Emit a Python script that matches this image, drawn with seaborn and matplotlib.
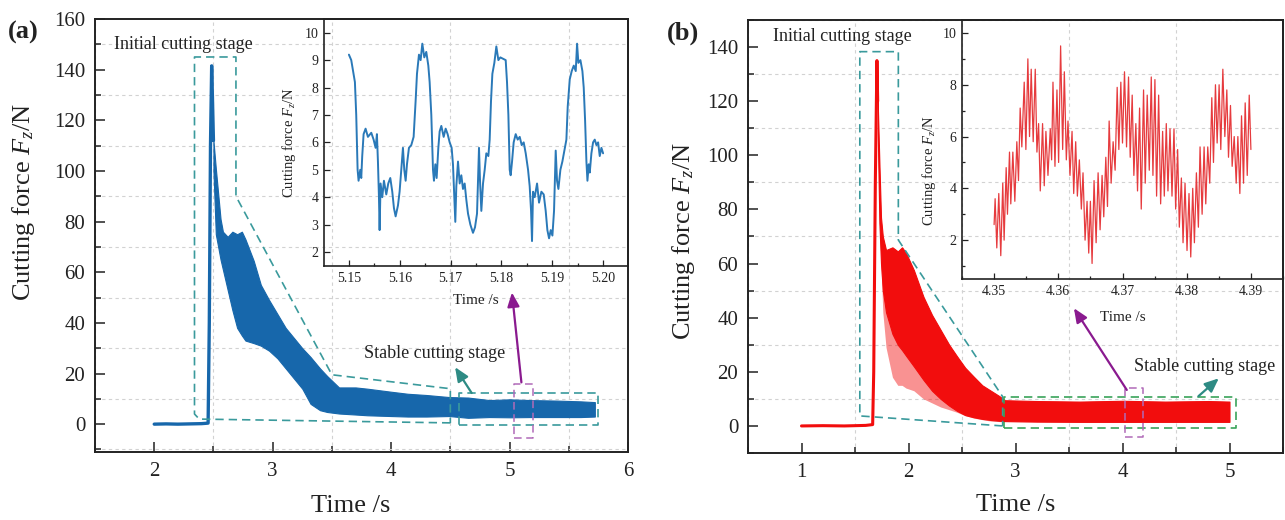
import numpy as np
import pandas as pd
import matplotlib
matplotlib.use('Agg')
import matplotlib.pyplot as plt
import seaborn as sns
from matplotlib.ticker import MultipleLocator, FormatStrFormatter

# ===================== data =====================
# ---- panel (a): idle baseline + initial force peak ----
a_line_t = [2.00, 2.10, 2.20, 2.30, 2.40, 2.455, 2.465, 2.475, 2.485, 2.492, 2.500]
a_line_f = [0.0, 0.1, 0.0, 0.1, 0.2, 0.4, 40.0, 110.0, 141.5, 128.0, 112.0]
# ---- panel (a): envelope of the dense cutting-force signal ----
a_env_t = [2.50, 2.52, 2.56, 2.58, 2.62, 2.66, 2.70, 2.74, 2.77, 2.84, 2.90, 2.97,
           3.04, 3.11, 3.18, 3.25, 3.32, 3.40, 3.46, 3.56, 3.70, 3.80, 4.00, 4.14,
           4.30, 4.49, 4.65, 4.83, 5.00, 5.18, 5.40, 5.60, 5.72]
a_env_hi = [112, 101, 81, 76, 74, 76, 75, 76, 73, 64.5, 55, 49,
            43.5, 38, 34, 30, 26.5, 22, 19, 14.5, 14.5, 14, 12.8, 12,
            11.5, 10.7, 10.5, 9.5, 9.8, 9.5, 9.3, 9.0, 8.7]
a_env_lo = [100, 75, 65, 61, 53, 45, 38, 35, 33, 32, 31, 29,
            26, 22, 18, 14, 8, 5.5, 4.8, 4.2, 3.8, 3.5, 3.2, 3.0,
            3.0, 3.2, 2.5, 2.8, 2.7, 2.8, 2.8, 2.8, 3.0]

# ---- panel (b): idle baseline + initial force peak ----
b_line_t = [1.00, 1.20, 1.40, 1.60, 1.665, 1.675, 1.690, 1.705, 1.712]
b_line_f = [0.0, 0.1, 0.0, 0.2, 0.5, 20.0, 90.0, 135.0, 120.0]
# ---- panel (b): envelope of the dense cutting-force signal ----
b_env_t = [1.712, 1.728, 1.743, 1.76, 1.79, 1.85, 1.90, 1.94, 1.976, 2.05, 2.14,
           2.22, 2.30, 2.38, 2.456, 2.53, 2.61, 2.69, 2.77, 2.85, 2.90, 3.20,
           3.60, 4.00, 4.40, 4.80, 5.00]
b_env_hi = [120, 97, 77, 70, 65, 66, 64.5, 66, 64, 57.6, 47.7,
            41, 35.5, 30, 25.6, 21.5, 18.2, 15, 13, 11, 9.5, 9.2,
            9.0, 9.3, 9.0, 9.2, 9.0]
b_dense_lo = [110, 75, 60, 50, 42, 34, 30, 28, 26, 22, 17,
              13, 10, 7.5, 5.5, 4.0, 3.2, 2.6, 2.2, 1.9, 1.8, 1.6,
              1.5, 1.5, 1.5, 1.5, 1.5]
b_sparse_lo = [110, 75, 60, 42, 29, 18, 15, 15, 14, 13, 10,
               8.5, 7, 6, 5, 3.8, 2.9, 2.3, 1.8, 1.6, 1.6, 1.5,
               1.5, 1.4, 1.5, 1.5, 1.5]

# ---- inset (a): zoom 5.15-5.20 s ----
inset_a_t = [5.15000, 5.15046, 5.15092, 5.15118, 5.15144, 5.15171, 5.15190, 5.15223, 5.15243, 5.15262,
             5.15289, 5.15328, 5.15374, 5.15440, 5.15486, 5.15525, 5.15551, 5.15571, 5.15591, 5.15604,
             5.15623, 5.15656, 5.15689, 5.15735, 5.15774, 5.15814, 5.15853, 5.15886, 5.15919, 5.15965,
             5.15997, 5.16030, 5.16063, 5.16089, 5.16116, 5.16142, 5.16181, 5.16227, 5.16273, 5.16312,
             5.16339, 5.16378, 5.16411, 5.16444, 5.16483, 5.16522, 5.16562, 5.16588, 5.16621, 5.16654,
             5.16673, 5.16700, 5.16726, 5.16759, 5.16785, 5.16818, 5.16864, 5.16903, 5.16942, 5.16982,
             5.17021, 5.17047, 5.17073, 5.17093, 5.17113, 5.17146, 5.17179, 5.17211, 5.17244, 5.17277,
             5.17310, 5.17343, 5.17389, 5.17441, 5.17480, 5.17520, 5.17559, 5.17579, 5.17605, 5.17638,
             5.17671, 5.17703, 5.17743, 5.17769, 5.17795, 5.17822, 5.17861, 5.17900, 5.17940, 5.17979,
             5.18031, 5.18084, 5.18110, 5.18137, 5.18163, 5.18182, 5.18209, 5.18241, 5.18281, 5.18320,
             5.18360, 5.18399, 5.18438, 5.18478, 5.18524, 5.18556, 5.18583, 5.18602, 5.18622, 5.18655,
             5.18701, 5.18740, 5.18786, 5.18832, 5.18871, 5.18904, 5.18937, 5.18970, 5.19003, 5.19035,
             5.19068, 5.19094, 5.19121, 5.19160, 5.19199, 5.19239, 5.19278, 5.19304, 5.19344, 5.19383,
             5.19423, 5.19462, 5.19488, 5.19514, 5.19554, 5.19593, 5.19619, 5.19646, 5.19672, 5.19692,
             5.19718, 5.19738, 5.19770, 5.19803, 5.19836, 5.19869, 5.19902, 5.19934, 5.19967, 5.20000]
inset_a_f = [9.2, 9.0, 8.5, 8.2, 7.0, 5.0, 4.6, 5.0, 4.7, 5.5,
             6.3, 6.5, 6.2, 6.35, 6.1, 5.8, 6.3, 5.3, 4.0, 2.8,
             4.5, 4.0, 4.6, 4.1, 4.5, 4.7, 4.2, 3.6, 3.3, 3.7,
             4.2, 5.0, 5.8, 5.0, 4.6, 5.2, 5.8, 5.9, 6.2, 7.5,
             8.5, 9.2, 9.0, 9.6, 9.1, 9.3, 8.8, 8.2, 7.0, 5.0,
             4.6, 5.2, 4.7, 5.8, 6.4, 6.6, 6.2, 6.5, 6.3, 6.0,
             5.8, 5.2, 4.0, 3.1, 4.4, 5.3, 4.5, 4.8, 4.3, 4.5,
             3.9, 3.4, 3.0, 2.7, 2.9, 3.4, 5.8, 4.6, 3.5, 4.5,
             5.0, 5.6, 5.5, 6.1, 7.5, 8.5, 8.9, 9.5, 9.0, 9.1,
             9.05, 9.0, 8.2, 7.0, 5.0, 4.8, 5.3, 6.0, 6.3, 6.1,
             6.2, 5.9, 6.0, 5.6, 5.0, 4.4, 3.5, 2.4, 4.2, 4.0,
             4.5, 3.8, 4.2, 4.1, 3.5, 2.8, 2.5, 2.8, 2.6, 3.5,
             5.7, 4.6, 4.3, 5.0, 5.3, 5.7, 6.1, 7.3, 8.3, 8.6,
             8.8, 8.6, 9.6, 8.9, 9.0, 8.6, 8.0, 6.8, 5.3, 4.6,
             5.2, 4.9, 5.6, 6.0, 6.1, 5.9, 6.0, 5.5, 5.8, 5.6]

# ---- inset (b): zoom 4.35-4.39 s ----
inset_b_t = [4.35000, 4.35016, 4.35042, 4.35073, 4.35104, 4.35135, 4.35156, 4.35188, 4.35208, 4.35240,
             4.35260, 4.35292, 4.35323, 4.35354, 4.35380, 4.35406, 4.35432, 4.35469, 4.35495, 4.35526,
             4.35552, 4.35578, 4.35609, 4.35641, 4.35667, 4.35693, 4.35719, 4.35755, 4.35781, 4.35807,
             4.35839, 4.35875, 4.35896, 4.35917, 4.35948, 4.35979, 4.36005, 4.36036, 4.36068, 4.36094,
             4.36125, 4.36151, 4.36182, 4.36214, 4.36240, 4.36271, 4.36297, 4.36328, 4.36359, 4.36385,
             4.36417, 4.36448, 4.36474, 4.36500, 4.36526, 4.36557, 4.36589, 4.36620, 4.36651, 4.36682,
             4.36708, 4.36740, 4.36766, 4.36792, 4.36823, 4.36854, 4.36885, 4.36917, 4.36943, 4.36974,
             4.37000, 4.37031, 4.37063, 4.37094, 4.37120, 4.37151, 4.37177, 4.37208, 4.37234, 4.37266,
             4.37292, 4.37328, 4.37354, 4.37385, 4.37417, 4.37448, 4.37474, 4.37505, 4.37531, 4.37563,
             4.37594, 4.37625, 4.37651, 4.37682, 4.37708, 4.37740, 4.37771, 4.37802, 4.37828, 4.37859,
             4.37885, 4.37917, 4.37943, 4.37974, 4.38005, 4.38036, 4.38063, 4.38094, 4.38120, 4.38151,
             4.38182, 4.38208, 4.38240, 4.38271, 4.38297, 4.38328, 4.38359, 4.38391, 4.38417, 4.38448,
             4.38474, 4.38505, 4.38531, 4.38563, 4.38594, 4.38625, 4.38651, 4.38682, 4.38708, 4.38740,
             4.38771, 4.38797, 4.38828, 4.38854, 4.38885, 4.38911, 4.38943, 4.38974, 4.39000]
inset_b_f = [2.6, 3.6, 1.7, 3.8, 1.4, 4.2, 2.0, 4.8, 3.0, 5.4,
             3.4, 5.4, 3.5, 5.8, 4.3, 7.1, 5.6, 8.1, 5.5, 9.0,
             6.0, 8.6, 5.8, 8.6, 5.4, 6.5, 3.9, 6.5, 4.1, 6.2,
             4.5, 6.3, 5.1, 8.1, 4.85, 7.8, 5.0, 9.5, 5.5, 8.5,
             5.1, 6.6, 4.5, 6.2, 3.8, 5.8, 3.7, 5.1, 3.2, 4.6,
             2.0, 3.5, 1.5, 3.5, 1.1, 4.3, 1.9, 4.6, 2.4, 4.5,
             2.9, 5.2, 3.3, 6.6, 4.2, 5.8, 4.7, 7.9, 5.5, 8.1,
             5.75, 8.5, 5.6, 8.3, 5.2, 7.6, 4.5, 6.5, 3.9, 7.1,
             3.2, 7.8, 4.2, 7.6, 4.7, 8.3, 4.5, 8.2, 3.7, 7.6,
             3.4, 6.2, 3.7, 6.5, 3.9, 6.3, 3.7, 6.3, 3.2, 5.5,
             2.5, 4.4, 1.9, 4.2, 1.6, 3.8, 1.35, 4.0, 1.9, 4.6,
             2.5, 5.6, 3.0, 5.6, 3.4, 5.6, 4.2, 7.5, 5.0, 8.0,
             5.75, 8.0, 5.5, 8.6, 6.0, 7.8, 5.2, 7.2, 4.85, 6.0,
             4.2, 6.0, 3.8, 6.8, 4.2, 7.3, 4.5, 7.6, 5.5]

# ===================== styling =====================
sns.set_theme(style='white')
plt.rcParams.update({
    'font.family': ['Liberation Serif', 'DejaVu Serif'],
    'mathtext.fontset': 'custom',
    'mathtext.rm': 'Liberation Serif',
    'mathtext.it': 'Liberation Serif:italic',
    'mathtext.bf': 'Liberation Serif:bold',
    'axes.edgecolor': '#222222',
    'xtick.color': '#222222', 'ytick.color': '#222222',
    'text.color': '#222222', 'axes.labelcolor': '#222222',
})

BLUE = '#1767ab'
BLUE_L = '#2a79b8'
RED = '#f20d0d'
RED_L = '#e63b3e'
TEAL = '#3a9a9c'
GREEN = '#3aa35a'
PURP = '#8a1a8f'
PURP_L = '#b06ab8'
DASH = (0, (5, 3))

W, H = 1285, 520
fig = plt.figure(figsize=(W / 100, H / 100), dpi=100)


def frac(l, t, r, b):
    return [l / W, (H - b) / H, (r - l) / W, (b - t) / H]


axA = fig.add_axes(frac(95, 19, 628, 452))
axB = fig.add_axes(frac(748, 20, 1283, 453))
axAi = fig.add_axes(frac(324, 19, 628, 266))
axBi = fig.add_axes(frac(962, 20, 1283, 279))


def style_main(ax, xlim, ylim, xmaj, xmin, ymaj, ymin):
    ax.set_xlim(*xlim)
    ax.set_ylim(*ylim)
    ax.xaxis.set_major_locator(MultipleLocator(xmaj))
    ax.xaxis.set_minor_locator(MultipleLocator(xmin))
    ax.yaxis.set_major_locator(MultipleLocator(ymaj))
    ax.yaxis.set_minor_locator(MultipleLocator(ymin))
    ax.tick_params(which='both', direction='in', top=False, right=False,
                   bottom=True, left=True, labelsize=15, width=1.1, colors='#222222')
    ax.tick_params(which='major', length=7, pad=7)
    ax.tick_params(which='minor', length=4)
    ax.grid(False)
    ax.grid(True, which='minor', axis='both', color='#d2d2d2',
            linestyle=(0, (3, 3)), linewidth=0.8)
    ax.set_axisbelow(True)
    for s in ax.spines.values():
        s.set_visible(True)
        s.set_linewidth(1.4)
        s.set_color('#222222')


def style_inset(ax, xlim, ylim, xmaj, xmin, ymaj, ymin):
    ax.set_facecolor('none')
    ax.set_xlim(*xlim)
    ax.set_ylim(*ylim)
    ax.xaxis.set_major_locator(MultipleLocator(xmaj))
    ax.xaxis.set_minor_locator(MultipleLocator(xmin))
    ax.xaxis.set_major_formatter(FormatStrFormatter('%.2f'))
    ax.yaxis.set_major_locator(MultipleLocator(ymaj))
    if ymin:
        ax.yaxis.set_minor_locator(MultipleLocator(ymin))
    ax.yaxis.set_major_formatter(FormatStrFormatter('%d'))
    ax.tick_params(which='both', direction='in', top=False, right=False,
                   bottom=True, left=True, labelsize=10, width=0.9, colors='#222222')
    ax.tick_params(which='major', length=4.5, pad=4)
    ax.tick_params(which='minor', length=2.5)
    ax.grid(False)
    for s in ax.spines.values():
        s.set_visible(True)
        s.set_linewidth(1.2)
        s.set_color('#222222')


def dashed(ax, xs, ys, color, lw=1.2):
    ax.plot(xs, ys, color=color, linestyle=DASH, linewidth=lw, zorder=5)


def arrow(ax, tail, head, color):
    ax.annotate('', xy=head, xytext=tail, zorder=6,
                arrowprops=dict(arrowstyle='-|>,head_length=0.7,head_width=0.3',
                                color=color, lw=1.6, shrinkA=0, shrinkB=0))


# ===================== panel (a) =====================
style_main(axA, (1.5, 6.0), (-11, 160), 1, 0.5, 20, 10)
axA.fill_between(a_env_t, a_env_lo, a_env_hi, color=BLUE, linewidth=0.8,
                 edgecolor=BLUE, zorder=3)
sns.lineplot(x=a_line_t, y=a_line_f, ax=axA, color=BLUE, linewidth=2.4,
             estimator=None, sort=False, zorder=3)

dashed(axA, [4.50, 2.38, 2.34, 2.34, 2.69, 2.69, 3.50, 4.50, 4.50],
       [0.5, 2.0, 4.0, 145, 145, 90, 19.5, 14.0, 0.5], TEAL)
dashed(axA, [4.57, 5.75, 5.75, 4.57, 4.57], [-0.4, -0.4, 12.3, 12.3, -0.4], TEAL)
dashed(axA, [5.04, 5.20, 5.20, 5.04, 5.04], [-5.5, -5.5, 16.0, 16.0, -5.5], PURP_L, lw=1.1)
arrow(axA, (5.10, 16.5), (5.02, 52.0), PURP)
arrow(axA, (4.68, 12.3), (4.54, 22.5), '#2e8b84')
axA.text(2.245, 150, 'Initial cutting stage', fontsize=13, ha='center', va='center', zorder=7)
axA.text(4.37, 28, 'Stable cutting stage', fontsize=13, ha='center', va='center', zorder=7)

axA.set_xlabel('Time /s', fontsize=19)
axA.set_ylabel('Cutting force $F_z$/N', fontsize=19)
axA.xaxis.set_label_coords(0.48, -0.10)
axA.yaxis.set_label_coords(-0.108, 0.577)

# inset (a)
style_inset(axAi, (5.1451, 5.2049), (1.49, 10.5), 0.01, 0.005, 1, None)
sns.lineplot(x=inset_a_t, y=inset_a_f, ax=axAi, color=BLUE_L, linewidth=1.4,
             estimator=None, sort=False)
axAi.set_xlabel('Time /s', fontsize=11)
axAi.set_ylabel('Cutting force $F_z$/N', fontsize=10.5)
axAi.xaxis.set_label_coords(0.5, -0.115)
axAi.yaxis.set_label_coords(-0.085, 0.5)

# ===================== panel (b) =====================
style_main(axB, (0.5, 5.5), (-10, 150), 1, 0.5, 20, 10)
axB.fill_between(b_env_t, b_sparse_lo, b_env_hi, color=RED, alpha=0.45, linewidth=0, zorder=3)
axB.fill_between(b_env_t, b_dense_lo, b_env_hi, color=RED, linewidth=0.8,
                 edgecolor=RED, zorder=3)
sns.lineplot(x=b_line_t, y=b_line_f, ax=axB, color=RED, linewidth=2.2,
             estimator=None, sort=False, zorder=3)

dashed(axB, [2.88, 1.545, 1.545, 1.905, 1.905, 2.88, 2.88],
       [0.0, 3.7, 138.3, 138.3, 68.7, 10.8, 0.0], TEAL)
dashed(axB, [2.895, 5.06, 5.06, 2.895, 2.895], [-0.85, -0.85, 10.6, 10.6, -0.85], GREEN)
dashed(axB, [4.02, 4.195, 4.195, 4.02, 4.02], [-4.2, -4.2, 13.9, 13.9, -4.2], PURP_L, lw=1.1)
arrow(axB, (4.04, 13.3), (3.546, 43.5), PURP)
arrow(axB, (4.71, 11.0), (4.90, 17.6), '#2e8b84')
axB.text(1.386, 143.8, 'Initial cutting stage', fontsize=13, ha='center', va='center', zorder=7)
axB.text(4.77, 21.9, 'Stable cutting stage', fontsize=13, ha='center', va='center', zorder=7)

axB.set_xlabel('Time /s', fontsize=19)
axB.set_ylabel('Cutting force $F_z$/N', fontsize=19)
axB.xaxis.set_label_coords(0.5, -0.095)
axB.yaxis.set_label_coords(-0.095, 0.49)

# inset (b)
style_inset(axBi, (4.345, 4.395), (0.5, 10.5), 0.01, 0.005, 2, 1)
sns.lineplot(x=inset_b_t, y=inset_b_f, ax=axBi, color=RED_L, linewidth=0.9,
             estimator=None, sort=False)
axBi.set_xlabel('Time /s', fontsize=11)
axBi.set_ylabel('Cutting force $F_z$/N', fontsize=10.5)
axBi.xaxis.set_label_coords(0.5, -0.125)
axBi.yaxis.set_label_coords(-0.075, 0.42)

# panel letters
fig.text(8 / W, 1 - 32 / H, '(a)', fontsize=19, fontweight='bold', ha='left', va='center')
fig.text(667 / W, 1 - 33 / H, '(b)', fontsize=19, fontweight='bold', ha='left', va='center')

fig.savefig('out.png', dpi=100)
